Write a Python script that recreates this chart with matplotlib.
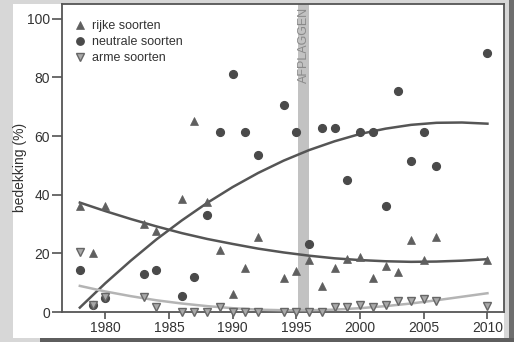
import numpy as np
import matplotlib.pyplot as plt
from matplotlib.patches import Rectangle

plt.rcParams['font.family'] = ['Liberation Sans', 'DejaVu Sans']

years = [1978, 1979, 1980, 1983, 1984, 1986, 1987, 1988, 1989, 1990, 1991, 1992,
         1994, 1995, 1996, 1997, 1998, 1999, 2000, 2001, 2002, 2003, 2004, 2005,
         2006, 2010]
rijke = [36, 20, 36, 30, 27.5, 38.5, 65, 37.5, 21, 6, 15, 25.7,
         11.7, 14, 17.6, 9, 15, 18, 18.8, 11.7, 15.7, 13.7, 24.5, 17.6,
         25.4, 17.7]
neutrale = [14.2, 2.4, 4.7, 13.1, 14.2, 5.3, 12.1, 33, 61.5, 81.2, 61.5, 53.5,
            70.5, 61.5, 23.3, 62.6, 62.6, 44.9, 61.5, 61.5, 36.1, 75.3, 51.5, 61.5,
            49.9, 88.2]
arme = [20.5, 2.3, 5, 5.2, 1.8, 0, 0, 0, 1.8, 0, 0, 0,
        0, 0, 0, 0, 1.8, 1.8, 2.4, 1.8, 2.4, 3.8, 3.8, 4.6,
        3.6, 2]

# trend lines (every 2 years)
trend_years = [1978, 1980, 1982, 1984, 1986, 1988, 1990, 1992, 1994,
               1996, 1998, 2000, 2002, 2004, 2006, 2008, 2010]
trend_rijke = [37.3, 34.4, 31.7, 29.2, 26.9, 24.9, 23.2, 21.6, 20.3,
               19.2, 18.3, 17.7, 17.3, 17.1, 17.2, 17.5, 18.0]
trend_neutrale = [1.5, 9.8, 17.5, 24.7, 31.2, 37.2, 42.6, 47.4, 51.6,
                  55.2, 58.2, 60.7, 62.5, 63.8, 64.5, 64.6, 64.2]
trend_arme = [8.9, 7.0, 5.4, 4.0, 2.9, 2.0, 1.3, 0.8, 0.6,
              0.6, 0.8, 1.3, 2.0, 2.9, 4.0, 5.2, 6.4]

afplaggen = (1995.15, 1996.0)

fig = plt.figure(figsize=(5.14, 3.42), dpi=100, facecolor='#d7d7d7')
W, H = 514, 342
fig.add_artist(Rectangle((13 / W, 4 / H), (504 - 13) / W, 334 / H,
                         transform=fig.transFigure, facecolor='white', edgecolor='none', zorder=0))
fig.add_artist(Rectangle((509 / W, 0), 5 / W, 1, transform=fig.transFigure,
                         facecolor='#6e6e6e', edgecolor='none', zorder=0))
fig.add_artist(Rectangle((40 / W, 0), 474 / W, 4 / H, transform=fig.transFigure,
                         facecolor='#5e5e5e', edgecolor='none', zorder=0))

ax = fig.add_axes([62 / W, 30 / H, 442 / W, 308 / H])
ax.set_facecolor('white')

ax.axvspan(*afplaggen, color='#c2c2c2', lw=0, zorder=1)
ax.text(sum(afplaggen) / 2, 104, 'AFPLAGGEN', rotation=90, ha='center', va='top',
        fontsize=9, color='#8a8a8a', zorder=2)

ax.plot(trend_years, trend_rijke, color='#555555', lw=1.8, zorder=3)
ax.plot(trend_years, trend_neutrale, color='#555555', lw=1.8, zorder=3)
ax.plot(trend_years, trend_arme, color='#b4b4b4', lw=1.8, zorder=3)

ax.plot(years, rijke, '^', ms=5.8, color='#5f5f5f', mec='#5f5f5f', mew=0.5,
        label='rijke soorten', zorder=4, clip_on=False)
ax.plot(years, neutrale, 'o', ms=5.6, color='#4a4a4a', mec='#4a4a4a',
        label='neutrale soorten', zorder=4, clip_on=False)
ax.plot(years, arme, 'v', ms=5.8, color='#a9a9a9', mec='#666666', mew=1.0,
        label='arme soorten', zorder=5, clip_on=False)

ax.set_xlim(1976.6, 2011.3)
ax.set_ylim(0, 105)
ax.set_xticks([1980, 1985, 1990, 1995, 2000, 2005, 2010])
ax.set_yticks([0, 20, 40, 60, 80, 100])
ax.tick_params(axis='both', colors='#444444', labelcolor='#333333', labelsize=10,
               width=1.1, pad=1.5)
ax.tick_params(axis='x', length=5)
ax.tick_params(axis='y', length=7)
for s in ax.spines.values():
    s.set_color('#555555')
    s.set_linewidth(1.3)
ax.set_ylabel('bedekking (%)', fontsize=10, color='#333333')
ax.yaxis.set_label_coords(-0.079, 0.47)

leg = ax.legend(loc='upper left', bbox_to_anchor=(0.015, 0.963), borderaxespad=0,
                frameon=False, fontsize=9, handlelength=1, handletextpad=0.5,
                labelspacing=0.31, borderpad=0.4, markerscale=0.95)
for t in leg.get_texts():
    t.set_color('#333333')

fig.savefig('out.png', dpi=100, facecolor=fig.get_facecolor())
